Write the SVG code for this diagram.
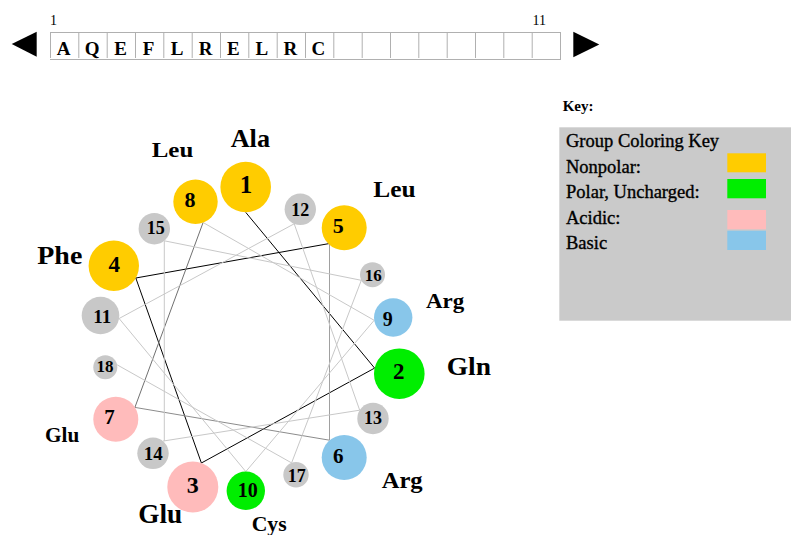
<svg xmlns="http://www.w3.org/2000/svg" width="791" height="535" viewBox="0 0 791 535">
  <style>
    .seq { font-family: "Liberation Serif", "Times New Roman", serif; font-weight: bold; font-size: 19px; text-anchor: middle; fill: #000; }
    .idx { font-family: "Liberation Serif", "Times New Roman", serif; font-size: 14px; fill: #000; }
    .cell { stroke: #b0b0b0; stroke-width: 1; fill: none; }
    .arrow { fill: #000; }
    .num { font-family: "Liberation Serif", "Times New Roman", serif; font-weight: bold; text-anchor: middle; fill: #000; }
    .lab { font-family: "Liberation Serif", "Times New Roman", serif; font-weight: bold; fill: #000; }
    .key { font-family: "Liberation Serif", "Times New Roman", serif; font-size: 18.5px; fill: #000; stroke: #000; stroke-width: 0.35; }
    .nonpolar { fill: #ffcc00; }
    .polar { fill: #00ee00; }
    .acidic { fill: #ffbbbb; }
    .basic { fill: #88c6ea; }
    .other { fill: #c8c8c8; }
    .bond { fill: none; stroke-width: 1; }
  </style>

  <!-- sequence strip -->
  <g id="sequence">
    <polygon class="arrow" points="11.7,44 36.7,31.7 36.7,56.7"/>
    <polygon class="arrow" points="573.3,31.7 573.3,57.3 599.3,44.5"/>
    <text class="idx" x="50" y="25">1</text>
    <text class="idx" x="532.5" y="25">11</text>
    <line class="cell" x1="50" y1="32.5" x2="560.5" y2="32.5"/>
    <line class="cell" x1="50" y1="59.5" x2="560.5" y2="59.5"/>
    <path class="cell" d="M50.5,32V58 M78.8,32V58 M107.2,32V58 M135.5,32V58 M163.8,32V58 M192.2,32V58 M220.5,32V58 M248.8,32V58 M277.2,32V58 M305.5,32V58 M333.8,32V58 M362.2,32V58 M390.5,32V58 M418.8,32V58 M447.2,32V58 M475.5,32V58 M503.8,32V58 M532.2,32V58 M560.5,32V60"/>
    <text class="seq" x="63.5" y="55">A</text>
    <text class="seq" x="92.2" y="55">Q</text>
    <text class="seq" x="120.5" y="55">E</text>
    <text class="seq" x="148.6" y="55">F</text>
    <text class="seq" x="177.2" y="55">L</text>
    <text class="seq" x="205.6" y="55">R</text>
    <text class="seq" x="233.4" y="55">E</text>
    <text class="seq" x="261.9" y="55">L</text>
    <text class="seq" x="290.3" y="55">R</text>
    <text class="seq" x="318.4" y="55">C</text>
  </g>

  <!-- helix backbone connectors, residue i to i+1 -->
  <g id="connectors">
    <line class="bond" stroke="#000" x1="245.7" y1="212.3" x2="374.6" y2="368.1"/>
    <line class="bond" stroke="#000" x1="374.6" y1="368.1" x2="201.4" y2="463.0"/>
    <line class="bond" stroke="#000" x1="201.4" y1="463.0" x2="135.8" y2="278.0"/>
    <line class="bond" stroke="#000" x1="135.8" y1="278.0" x2="329.5" y2="243.5"/>
    <line class="bond" stroke="#a0a0a0" x1="329.5" y1="243.5" x2="329.5" y2="440.2"/>
    <line class="bond" stroke="#8c8c8c" x1="329.5" y1="440.2" x2="134.9" y2="407.4"/>
    <line class="bond" stroke="#707070" x1="134.9" y1="407.4" x2="203.1" y2="222.5"/>
    <line class="bond" stroke="#c8c8c8" x1="203.1" y1="222.5" x2="374.2" y2="320.3"/>
    <line class="bond" stroke="#c8c8c8" x1="374.2" y1="320.3" x2="245.8" y2="471.6"/>
    <line class="bond" stroke="#c8c8c8" x1="245.8" y1="471.6" x2="119.1" y2="318.5"/>
    <line class="bond" stroke="#c8c8c8" x1="119.1" y1="318.5" x2="294.2" y2="223.8"/>
    <line class="bond" stroke="#c8c8c8" x1="294.2" y1="223.8" x2="359.7" y2="410.2"/>
    <line class="bond" stroke="#c8c8c8" x1="359.7" y1="410.2" x2="162.9" y2="441.1"/>
    <line class="bond" stroke="#c8c8c8" x1="164.3" y1="441.1" x2="164.3" y2="240.8"/>
    <line class="bond" stroke="#c8c8c8" x1="164.3" y1="240.8" x2="361.3" y2="280.3"/>
    <line class="bond" stroke="#c8c8c8" x1="361.3" y1="280.3" x2="291.6" y2="462.9"/>
    <line class="bond" stroke="#c8c8c8" x1="291.6" y1="462.9" x2="117.1" y2="364.8"/>
  </g>

  <!-- residues -->
  <g id="res1"><circle class="nonpolar" cx="245.7" cy="187" r="25.3"/><text class="num" x="245.9" y="192.7" font-size="25">1</text></g>
  <g id="res2"><circle class="polar" cx="399.3" cy="373.7" r="25.3"/><text class="num" x="398.8" y="379.3" font-size="23">2</text></g>
  <g id="res3"><circle class="acidic" cx="192.8" cy="487" r="25.5"/><text class="num" x="192.7" y="492.7" font-size="24">3</text></g>
  <g id="res4"><circle class="nonpolar" cx="113.8" cy="265.8" r="25.2"/><text class="num" x="114.2" y="272.3" font-size="23">4</text></g>
  <g id="res5"><circle class="nonpolar" cx="344.2" cy="227.8" r="22.5"/><text class="num" x="338.3" y="233.3" font-size="22">5</text></g>
  <g id="res6"><circle class="basic" cx="344.2" cy="457.5" r="22.5"/><text class="num" x="338.3" y="463.3" font-size="21">6</text></g>
  <g id="res7"><circle class="acidic" cx="115.8" cy="419.2" r="22.5"/><text class="num" x="109.5" y="424" font-size="21" font-weight="normal">7</text></g>
  <g id="res8"><circle class="nonpolar" cx="195.5" cy="201.7" r="22.2"/><text class="num" x="189.9" y="207.3" font-size="22">8</text></g>
  <g id="res9"><circle class="basic" cx="393.2" cy="317.5" r="19.2"/><text class="num" x="387.8" y="326" font-size="20">9</text></g>
  <g id="res10"><circle class="polar" cx="245.8" cy="490.8" r="19.2"/><text class="num" x="247.7" y="496.7" font-size="20">10</text></g>
  <g id="res11"><circle class="other" cx="100.5" cy="315.5" r="18.8"/><text class="num" x="102.2" y="322.7" font-size="19">11</text></g>
  <g id="res12"><circle class="other" cx="300.3" cy="209.3" r="15.7"/><text class="num" x="300.3" y="215.7" font-size="18">12</text></g>
  <g id="res13"><circle class="other" cx="373" cy="418.5" r="15.7"/><text class="num" x="373" y="424" font-size="18">13</text></g>
  <g id="res14"><circle class="other" cx="153" cy="453.3" r="15.7"/><text class="num" x="153.3" y="460" font-size="19">14</text></g>
  <g id="res15"><circle class="other" cx="154.3" cy="228.7" r="15.7"/><text class="num" x="155.8" y="234.3" font-size="18">15</text></g>
  <g id="res16"><circle class="other" cx="372.5" cy="274.7" r="12.5"/><text class="num" x="373.2" y="280.7" font-size="17">16</text></g>
  <g id="res17"><circle class="other" cx="296" cy="474.8" r="12.7"/><text class="num" x="296.7" y="481.7" font-size="18" font-weight="normal">17</text></g>
  <g id="res18"><circle class="other" cx="105.3" cy="367.2" r="12"/><text class="num" x="105" y="372.3" font-size="17">18</text></g>

  <!-- residue names -->
  <g id="names">
    <text class="lab" x="230.7" y="146.7" font-size="25" textLength="39.3" lengthAdjust="spacingAndGlyphs">Ala</text>
    <text class="lab" x="151.7" y="157.3" font-size="22" textLength="41.6" lengthAdjust="spacingAndGlyphs">Leu</text>
    <text class="lab" x="373.3" y="197.3" font-size="24" textLength="42.3" lengthAdjust="spacingAndGlyphs">Leu</text>
    <text class="lab" x="37.3" y="264.3" font-size="25" textLength="45" lengthAdjust="spacingAndGlyphs">Phe</text>
    <text class="lab" x="426" y="308.3" font-size="21" textLength="38.3" lengthAdjust="spacingAndGlyphs">Arg</text>
    <text class="lab" x="446.7" y="375" font-size="25" textLength="44.3" lengthAdjust="spacingAndGlyphs">Gln</text>
    <text class="lab" x="381.7" y="488.3" font-size="23" textLength="41" lengthAdjust="spacingAndGlyphs">Arg</text>
    <text class="lab" x="251.7" y="530.5" font-size="21" textLength="35" lengthAdjust="spacingAndGlyphs">Cys</text>
    <text class="lab" x="138.3" y="522.7" font-size="27" textLength="44" lengthAdjust="spacingAndGlyphs">Glu</text>
    <text class="lab" x="45" y="441.7" font-size="21" textLength="34.3" lengthAdjust="spacingAndGlyphs">Glu</text>
  </g>

  <!-- colour key -->
  <g id="legend">
    <text class="lab" x="562.7" y="110.7" font-size="15">Key:</text>
    <rect x="559.3" y="127.3" width="232" height="193.4" fill="#cacaca"/>
    <text class="key" x="566" y="147.3">Group Coloring Key</text>
    <text class="key" x="566" y="173.3">Nonpolar:</text>
    <text class="key" x="566" y="198.3">Polar, Uncharged:</text>
    <text class="key" x="566" y="223.8">Acidic:</text>
    <text class="key" x="566" y="249">Basic</text>
    <rect class="nonpolar" x="727.3" y="153.3" width="38.7" height="19"/>
    <rect class="polar" x="727.3" y="179" width="38.7" height="19.3"/>
    <rect class="acidic" x="727.3" y="210" width="38.7" height="19.3"/>
    <rect class="basic" x="727.3" y="230.7" width="38.7" height="19.3"/>
  </g>
</svg>
